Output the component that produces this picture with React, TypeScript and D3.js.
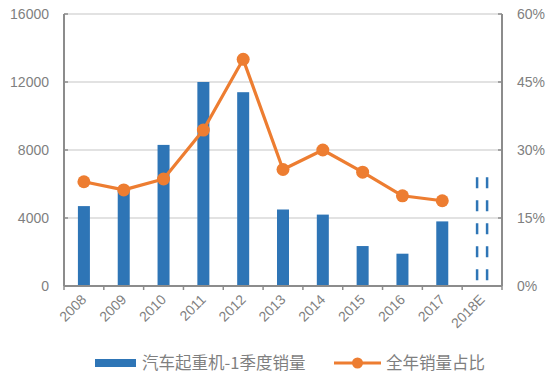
import React from "react";
import * as d3 from "d3";

const categories = ["2008", "2009", "2010", "2011", "2012", "2013", "2014", "2015", "2016", "2017", "2018E"];
const salesQ1 = [4700, 5600, 8300, 12000, 11400, 4500, 4200, 2350, 1900, 3800, 6400];
const estimated = [false, false, false, false, false, false, false, false, false, false, true];
const shareValues: (number | null)[] = [23, 21.2, 23.6, 34.4, 50, 25.7, 30, 25.1, 19.9, 18.8, null];
const leftTicks = [0, 4000, 8000, 12000, 16000];
const rightTicks = [0, 15, 30, 45, 60];
const barLegend = "汽车起重机-1季度销量";
const lineLegend = "全年销量占比";

const W = 550, H = 377;
const M = { left: 64, right: 502, top: 14, bottom: 286 };
const BLUE = "#2E75B6";
const ORANGE = "#ED7D31";
const GRID = "#d9d9d9";
const AXIS = "#8c8c8c";
const TXT = "#7f7f7f";
const FONT = "'Liberation Sans', Arial, sans-serif";
const CJK = "'Noto Sans CJK SC', sans-serif";

export default function App() {
  const x = d3.scaleBand<string>().domain(categories).range([M.left, M.right]).paddingInner(0).paddingOuter(0);
  const yL = d3.scaleLinear().domain([0, 16000]).range([M.bottom, M.top]);
  const yR = d3.scaleLinear().domain([0, 60]).range([M.bottom, M.top]);
  const bw = 12;
  const cx = (c: string) => (x(c) as number) + x.bandwidth() / 2;

  const linePts = categories
    .map((c, i) => ({ c, v: shareValues[i] }))
    .filter((d) => d.v !== null) as { c: string; v: number }[];
  const line = d3.line<{ c: string; v: number }>().x((d) => cx(d.c)).y((d) => yR(d.v));

  return (
    <svg width={W} height={H} style={{ position: "absolute", left: 0, top: 0, background: "#fff" }}>
      <rect width={W} height={H} fill="#fff" />
      {leftTicks.slice(1).map((t) => (
        <line key={t} x1={M.left} x2={M.right} y1={yL(t)} y2={yL(t)} stroke={GRID} strokeWidth={1.3} />
      ))}
      {categories.map((c, i) =>
        estimated[i] ? (
          <g key={c}>
            <line x1={cx(c) - bw / 2 + 1} x2={cx(c) - bw / 2 + 1} y1={yL(salesQ1[i])} y2={M.bottom} stroke={BLUE} strokeWidth={2.5} strokeDasharray="11 12" />
            <line x1={cx(c) + bw / 2 - 1} x2={cx(c) + bw / 2 - 1} y1={yL(salesQ1[i])} y2={M.bottom} stroke={BLUE} strokeWidth={2.5} strokeDasharray="11 12" />
          </g>
        ) : (
          <rect key={c} x={cx(c) - bw / 2} width={bw} y={yL(salesQ1[i])} height={M.bottom - yL(salesQ1[i])} fill={BLUE} />
        )
      )}
      <line x1={M.left} x2={M.left} y1={M.top} y2={M.bottom} stroke={AXIS} strokeWidth={2} />
      <line x1={M.right} x2={M.right} y1={M.top} y2={M.bottom} stroke={AXIS} strokeWidth={2} />
      <line x1={M.left} x2={M.right} y1={M.bottom} y2={M.bottom} stroke={AXIS} strokeWidth={2} />
      {leftTicks.map((t) => (
        <g key={"l" + t}>
          <line x1={M.left} x2={M.left + 4} y1={yL(t)} y2={yL(t)} stroke={AXIS} strokeWidth={1.5} />
          <text x={49} y={yL(t)} dy="0.35em" textAnchor="end" fontSize={14} fill={TXT} fontFamily={FONT}>{t}</text>
        </g>
      ))}
      {rightTicks.map((t) => (
        <g key={"r" + t}>
          <line x1={M.right - 4} x2={M.right} y1={yR(t)} y2={yR(t)} stroke={AXIS} strokeWidth={1.5} />
          <text x={517} y={yR(t)} dy="0.35em" textAnchor="start" fontSize={14} fill={TXT} fontFamily={FONT}>{t}%</text>
        </g>
      ))}
      {categories.map((c) => (
        <line key={"t" + c} x1={x(c) as number} x2={x(c) as number} y1={M.bottom} y2={M.bottom + 4} stroke={AXIS} strokeWidth={1.5} />
      ))}
      <line x1={M.right} x2={M.right} y1={M.bottom} y2={M.bottom + 4} stroke={AXIS} strokeWidth={1.5} />
      {categories.map((c) => (
        <text key={"x" + c} transform={`translate(${cx(c)},${M.bottom + 11}) rotate(-45)`} textAnchor="end" dy="0.35em" fontSize={14} fill={TXT} fontFamily={FONT}>{c}</text>
      ))}
      <path d={line(linePts) as string} fill="none" stroke={ORANGE} strokeWidth={3.2} strokeLinejoin="round" />
      {linePts.map((d) => (
        <circle key={"m" + d.c} cx={cx(d.c)} cy={yR(d.v)} r={6.5} fill={ORANGE} />
      ))}
      <rect x={95} y={359} width={41} height={8} fill={BLUE} />
      <text x={142} y={363} dy="0.35em" fontSize={16.5} fill={TXT} fontFamily={CJK}>{barLegend}</text>
      <line x1={334} x2={381} y1={363} y2={363} stroke={ORANGE} strokeWidth={3.2} />
      <circle cx={357.5} cy={363} r={5.5} fill={ORANGE} />
      <text x={386} y={363} dy="0.35em" fontSize={16.5} fill={TXT} fontFamily={CJK}>{lineLegend}</text>
    </svg>
  );
}
